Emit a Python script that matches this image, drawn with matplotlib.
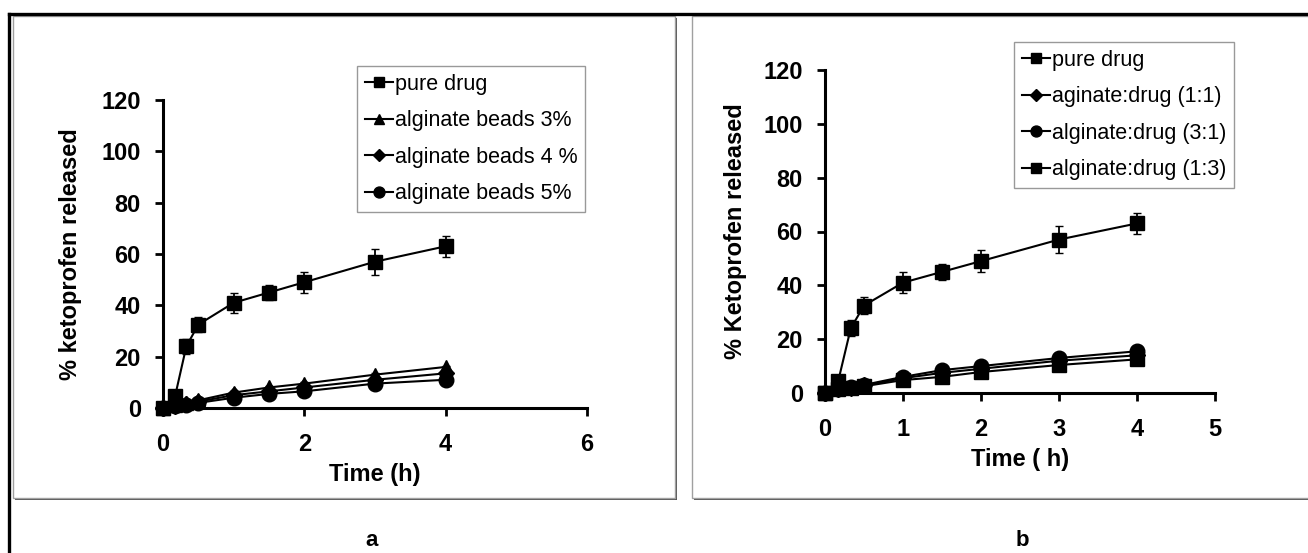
import matplotlib.pyplot as plt
from matplotlib.patches import Rectangle
from matplotlib.lines import Line2D

plt.rcParams['font.family'] = ['Liberation Sans', 'DejaVu Sans']

W, H = 1308, 553

# time points (h)
t = [0, 0.17, 0.33, 0.5, 1, 1.5, 2, 3, 4]

# panel a
labels_a = ['pure drug', 'alginate beads 3%', 'alginate beads 4 %', 'alginate beads 5%']
pure_a = [0, 4.5, 24, 32.5, 41, 45, 49, 57, 63]
pure_a_err = [0.5, 1, 3, 3, 4, 3, 4, 5, 4]
beads3 = [0, 1, 2, 3, 6, 8, 9.5, 13, 16]
beads4 = [0, 0.8, 1.6, 2.5, 5, 6.5, 8, 11, 13.5]
beads5 = [0, 0.6, 1.3, 2, 4, 5.5, 6.5, 9.5, 11]

# panel b
labels_b = ['pure drug', 'aginate:drug (1:1)', 'alginate:drug (3:1)', 'alginate:drug (1:3)']
pure_b = [0, 4.5, 24, 32.5, 41, 45, 49, 57, 63]
pure_b_err = [0.5, 1, 3, 3, 4, 3, 4, 5, 4]
ratio11 = [0, 1.5, 2, 2.8, 5.5, 7.5, 9, 12, 14]
ratio31 = [0, 1.6, 2.2, 3, 6, 8.5, 10, 13, 15.5]
ratio13 = [0, 1.4, 1.8, 2.5, 4.8, 6, 7.8, 10.4, 12.5]


def fx(x):
    return x / W


def fy(y):
    return 1 - y / H


fig = plt.figure(figsize=(W / 100, H / 100), dpi=100)

# outer table border
fig.add_artist(Line2D([fx(9), 1], [fy(14), fy(14)], color='black', lw=2.4))
fig.add_artist(Line2D([fx(9), fx(9)], [fy(14), 0], color='black', lw=2.4))

# panel frames with shadow
for x0, x1 in [(13, 675), (692, 1310)]:
    fig.add_artist(Rectangle((fx(x0 + 2), fy(500)), fx(x1 - x0), fy(18) - fy(500),
                             transform=fig.transFigure, facecolor='#555555',
                             edgecolor='none', zorder=0))
    fig.add_artist(Rectangle((fx(x0), fy(498)), fx(x1 - x0), fy(16) - fy(498),
                             transform=fig.transFigure, facecolor='white',
                             edgecolor='#a0a0a0', lw=1, zorder=0.5))


def style(ax):
    ax.set_zorder(2)
    ax.set_facecolor('none')
    for s in ['top', 'right']:
        ax.spines[s].set_visible(False)
    for s in ['left', 'bottom']:
        ax.spines[s].set_linewidth(2.2)
    ax.tick_params(direction='out', length=6, width=2, labelsize=17)
    ax.tick_params(axis='y', pad=10)
    ax.tick_params(axis='x', pad=12)
    for lab in ax.get_xticklabels() + ax.get_yticklabels():
        lab.set_fontweight('bold')


def add_legend(ax, conts, labels, x_frac, y_frac):
    leg = ax.legend([c[0] for c in conts], labels, loc='upper left',
                    bbox_to_anchor=(x_frac, y_frac),
                    fontsize=15.5, frameon=True, fancybox=False, edgecolor='#808080',
                    handlelength=1.3, handletextpad=0.1, markerscale=0.75,
                    borderpad=0.35, labelspacing=0.72, borderaxespad=0)
    leg.get_frame().set_linewidth(1)


mk = dict(color='black', lw=1.5, ms=10.5, capsize=3, elinewidth=1.3, clip_on=False)

# ---- panel a
axa = fig.add_axes([fx(163), fy(408), fx(587 - 163), fy(100) - fy(408)])
ca = [
    axa.errorbar(t, pure_a, yerr=pure_a_err, marker='s', **mk),
    axa.errorbar(t, beads3, yerr=[0.5] * len(t), marker='^', **mk),
    axa.errorbar(t, beads4, yerr=[0.5] * len(t), marker='D', **{**mk, 'ms': 8}),
    axa.errorbar(t, beads5, yerr=[0.5] * len(t), marker='o', **mk),
]
axa.set_xlim(0, 6)
axa.set_ylim(0, 120)
axa.set_xticks([0, 2, 4, 6])
axa.set_yticks(range(0, 121, 20))
style(axa)
axa.set_xlabel('Time (h)', fontsize=17, fontweight='bold', labelpad=5)
axa.set_ylabel('% ketoprofen released', fontsize=17, fontweight='bold', labelpad=14)
add_legend(axa, ca, labels_a, fx(357 - 163) / fx(587 - 163),
           (fy(66) - fy(408)) / (fy(100) - fy(408)))

# ---- panel b
axb = fig.add_axes([fx(825), fy(393), fx(1215 - 825), fy(70) - fy(393)])
cb = [
    axb.errorbar(t, pure_b, yerr=pure_b_err, marker='s', **mk),
    axb.errorbar(t, ratio11, yerr=[0.5] * len(t), marker='D', **{**mk, 'ms': 8}),
    axb.errorbar(t, ratio31, yerr=[0.5] * len(t), marker='o', **mk),
    axb.errorbar(t, ratio13, yerr=[0.5] * len(t), marker='s', **mk),
]
axb.set_xlim(0, 5)
axb.set_ylim(0, 120)
axb.set_xticks(range(0, 6))
axb.set_yticks(range(0, 121, 20))
style(axb)
axb.set_xlabel('Time ( h)', fontsize=17, fontweight='bold', labelpad=5)
axb.set_ylabel('% Ketoprofen released', fontsize=17, fontweight='bold', labelpad=12)
add_legend(axb, cb, labels_b, fx(1014 - 825) / fx(1215 - 825),
           (fy(42) - fy(393)) / (fy(70) - fy(393)))

fig.text(fx(372), fy(541), 'a', fontsize=16, fontweight='bold', ha='center', va='center')
fig.text(fx(1022), fy(541), 'b', fontsize=16, fontweight='bold', ha='center', va='center')

fig.savefig('out.png', dpi=100, facecolor='white')
